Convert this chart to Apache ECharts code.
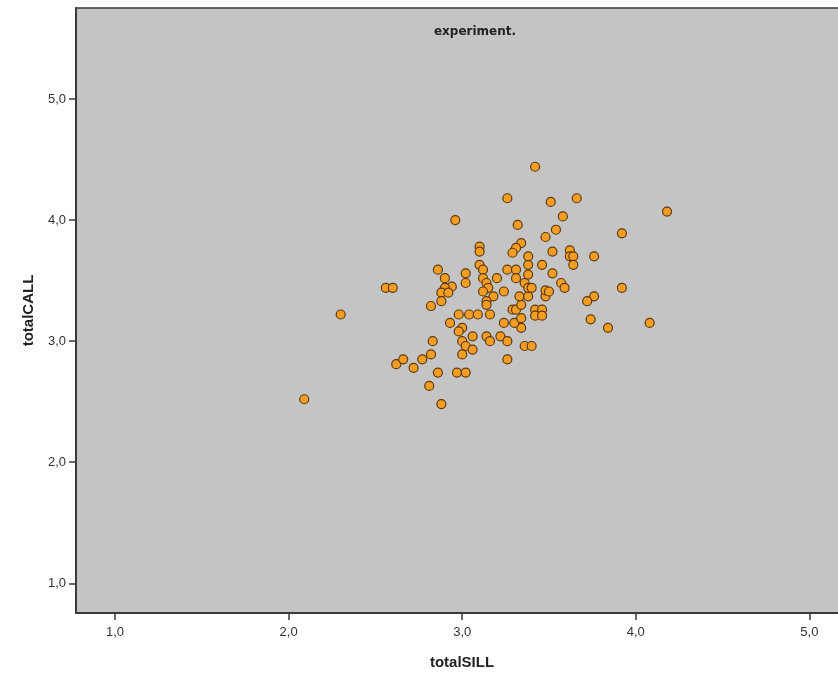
<!DOCTYPE html>
<html>
<head>
<meta charset="utf-8">
<script src="https://cdn.jsdelivr.net/npm/echarts@6/dist/echarts.min.js"></script>
<style>html,body{margin:0;padding:0;background:#fff;}#c{width:838px;height:680px;}</style>
</head>
<body>
<div id="c"></div>
<script>
var titleText = 'experiment.';
var xName = 'totalSILL';
var yName = 'totalCALL';
var xTicks = [1, 2, 3, 4, 5];
var yTicks = [1, 2, 3, 4, 5];
var totalSILL = [2.09,2.30,2.56,2.60,2.62,2.66,2.72,2.77,2.82,2.81,2.88,2.86,2.83,2.82,2.86,2.90,2.94,2.90,2.88,2.92,2.88,2.96,2.93,3.00,2.98,3.00,3.02,3.06,3.00,2.97,3.02,3.06,2.98,3.04,3.02,3.02,3.09,3.10,3.10,3.10,3.12,3.12,3.14,3.15,3.12,3.18,3.14,3.14,3.16,3.14,3.16,3.22,3.26,3.26,3.36,3.40,3.34,3.24,3.30,3.34,3.29,3.31,3.34,3.42,3.46,3.42,3.46,3.33,3.38,3.48,3.24,3.20,3.26,3.31,3.31,3.36,3.38,3.40,3.38,3.38,3.38,3.46,3.34,3.31,3.29,3.32,3.26,3.42,3.48,3.51,3.54,3.52,3.52,3.57,3.59,3.48,3.50,3.58,3.66,4.18,3.92,3.62,3.62,3.64,3.76,3.64,3.92,3.76,3.72,3.74,3.84,4.08];
var totalCALL = [2.52,3.22,3.44,3.44,2.81,2.85,2.78,2.85,2.89,2.63,2.48,2.74,3.00,3.29,3.59,3.52,3.45,3.44,3.40,3.40,3.33,4.00,3.15,3.11,3.08,3.00,2.96,2.93,2.89,2.74,2.74,3.04,3.22,3.22,3.56,3.48,3.22,3.78,3.74,3.63,3.59,3.52,3.48,3.44,3.41,3.37,3.33,3.30,3.22,3.04,3.00,3.04,3.00,2.85,2.96,2.96,3.11,3.15,3.15,3.19,3.26,3.26,3.30,3.26,3.26,3.21,3.21,3.37,3.37,3.37,3.41,3.52,3.59,3.59,3.52,3.48,3.44,3.44,3.55,3.63,3.70,3.63,3.81,3.77,3.73,3.96,4.18,4.44,3.86,4.15,3.92,3.74,3.56,3.48,3.44,3.42,3.41,4.03,4.18,4.07,3.89,3.75,3.70,3.70,3.70,3.63,3.44,3.37,3.33,3.18,3.11,3.15];

var points = totalSILL.map(function (x, i) { return [x, totalCALL[i]]; });
function fmt(v) { return v.toFixed(1).replace('.', ','); }

var chart = echarts.init(document.getElementById('c'));
chart.setOption({
  animation: false,
  backgroundColor: '#ffffff',
  title: {
    text: titleText,
    left: 470,
    top: 21,
    textAlign: 'center',
    textStyle: { fontFamily: 'DejaVu Sans', fontSize: 12, fontWeight: 'bold', color: '#222' }
  },
  grid: {
    left: 76, top: 8, right: -4, bottom: 67,
    outerBoundsMode: 'none',
    show: true, backgroundColor: '#c4c4c4', borderColor: '#3a3a3a', borderWidth: 1.5
  },
  xAxis: {
    type: 'value', min: 0.775, max: 5.188,
    name: xName, nameLocation: 'middle', nameGap: 42,
    nameTextStyle: { fontFamily: 'Liberation Sans', fontSize: 15, fontWeight: 'bold', color: '#222', padding: [0, 0, 0, 6] },
    axisLine: { show: true, lineStyle: { color: '#3a3a3a', width: 2 } },
    axisTick: { show: true, length: 7, customValues: xTicks, lineStyle: { color: '#3a3a3a', width: 1.5 } },
    axisLabel: { customValues: xTicks, formatter: fmt, fontFamily: 'Liberation Sans', fontSize: 13, color: '#333', margin: 13 },
    splitLine: { show: false }
  },
  yAxis: {
    type: 'value', min: 0.755, max: 5.751,
    name: yName, nameLocation: 'middle', nameGap: 40,
    nameTextStyle: { fontFamily: 'Liberation Sans', fontSize: 15, fontWeight: 'bold', color: '#222' },
    axisLine: { show: true, lineStyle: { color: '#3a3a3a', width: 2 } },
    axisTick: { show: true, length: 7, customValues: yTicks, lineStyle: { color: '#3a3a3a', width: 1.5 } },
    axisLabel: { customValues: yTicks, formatter: fmt, fontFamily: 'Liberation Sans', fontSize: 13, color: '#333', margin: 10 },
    splitLine: { show: false }
  },
  series: [{
    type: 'scatter',
    data: points,
    symbol: 'circle',
    symbolSize: 9,
    itemStyle: { color: '#f59d22', borderColor: '#5b3a10', borderWidth: 1.2, opacity: 1 }
  }]
});
</script>
</body>
</html>
